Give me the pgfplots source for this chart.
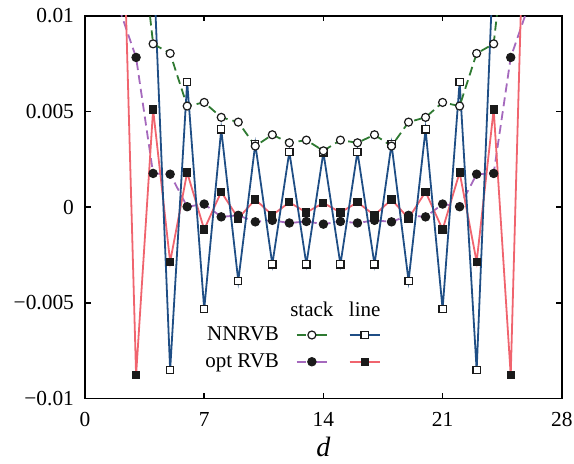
\documentclass[border=0pt]{standalone}
\usepackage{fontspec}
\setmainfont{Liberation Serif}
\usepackage{pgfplots}
\pgfplotsset{compat=1.18}
\definecolor{cgreen}{HTML}{2F7A32}
\definecolor{cblue}{HTML}{1F4E85}
\definecolor{cpurple}{HTML}{A569BD}
\definecolor{cred}{HTML}{F0646E}
\definecolor{mk}{HTML}{1A1A1A}
\pgfplotsset{
  gsty/.style={cgreen, line width=0.9pt, dash pattern=on 4.5pt off 2.5pt, mark=*, mark size=2pt, mark options={solid, fill=white, draw=mk, line width=0.6pt}},
  bsty/.style={cblue, line width=0.9pt, mark=square*, mark size=1.8pt, mark options={solid, fill=white, draw=mk, line width=0.6pt}},
  psty/.style={cpurple, line width=0.9pt, dash pattern=on 4.5pt off 2.5pt, mark=*, mark size=2.1pt, mark options={solid, fill=mk, draw=mk, line width=0.5pt}},
  rsty/.style={cred, line width=0.9pt, mark=square*, mark size=1.8pt, mark options={solid, fill=mk, draw=mk, line width=0.5pt}},
  legline/.style={legend image code/.code={%
     \path (-#1,0pt) (15pt+#1,0pt);
     \draw[mark repeat=2,mark phase=2,##1] plot coordinates {(0pt,0pt) (7.5pt,0pt) (15pt,0pt)};}},
  legdash/.style={legend image code/.code={%
     \path (-#1,0pt) (15pt+#1,0pt);
     \draw[##1, dash pattern=on 4pt off 7pt] (0pt,0pt) -- (15pt,0pt);
     \draw[mark repeat=2,mark phase=2,##1] plot[draw=none] coordinates {(0pt,0pt) (7.5pt,0pt) (15pt,0pt)};}},
  legtext/.style={legend image code/.code={%
     \path (7.5pt,-3.6pt) (7.5pt,4pt);
     \node[overlay, anchor=center, inner sep=0pt] at (7.5pt,0pt) {#1};}},
}
\begin{document}
\begin{tikzpicture}
\useasboundingbox (-42.5pt,-32.25pt) rectangle (244.5pt,199.25pt);
\begin{axis}[
  scale only axis, width=238.4pt, height=191.4pt,
  xmin=0, xmax=28, ymin=-0.01, ymax=0.01,
  xtick={0,7,14,21,28},
  xticklabels={0,7,14,21,28},
  ytick={-0.01,-0.005,0,0.005,0.01},
  yticklabels={−0.01,−0.005,0,0.005,0.01},
  scaled y ticks=false,
  tick align=inside, major tick length=2.8pt,
  axis line style={line width=0.9pt},
  tick style={line width=0.8pt, black},
  ticklabel style={font=\fontsize{10.7}{12}\selectfont},
  xticklabel style={yshift=-3.5pt},
  yticklabel style={xshift=-2pt},
  xlabel={\textit{d}},
  xlabel style={font=\fontsize{14}{16}\selectfont, yshift=2pt},
  legend columns=3,
  legend cell align=right,
  legend style={draw=none, fill=none, inner sep=0pt, column sep=0pt, row sep=3pt,
    nodes={inner sep=1pt}, font=\fontsize{10.5}{12}\selectfont,
    at={(axis cs:6.93,-0.00497)}, anchor=north west},
]
\addplot[psty, forget plot] coordinates {
(2,0.0104) (3,0.00782) (4,0.00176) (5,0.00172) (6,0.00002) (7,0.00016) (8,-0.00051) (9,-0.00043) (10,-0.00077) (11,-0.00069) (12,-0.00083) (13,-0.00075) (14,-0.00089)
(15,-0.00075) (16,-0.00083) (17,-0.00069) (18,-0.00077) (19,-0.00043) (20,-0.00051) (21,0.00016) (22,0.00002) (23,0.00172) (24,0.00176) (25,0.00782) (26,0.0104)};
\addplot[rsty, forget plot] coordinates {
(2,0.0232) (3,-0.00878) (4,0.00510) (5,-0.00286) (6,0.00181) (7,-0.00117) (8,0.00080) (9,-0.00059) (10,0.00040) (11,-0.00042) (12,0.00025) (13,-0.00028) (14,0.00022)
(15,-0.00028) (16,0.00025) (17,-0.00042) (18,0.00040) (19,-0.00059) (20,0.00080) (21,-0.00117) (22,0.00181) (23,-0.00286) (24,0.00510) (25,-0.00878) (26,0.0232)};
\addplot[bsty, forget plot] coordinates {
(4,0.0132) (5,-0.00852) (6,0.00655) (7,-0.00533) (8,0.00406) (9,-0.00385) (10,0.00329) (11,-0.00299) (12,0.00289) (13,-0.00299) (14,0.00286)
(15,-0.00299) (16,0.00289) (17,-0.00299) (18,0.00329) (19,-0.00385) (20,0.00406) (21,-0.00533) (22,0.00655) (23,-0.00852) (24,0.0132)};
\addplot[gsty, forget plot] coordinates {
(3,0.0165) (4,0.00853) (5,0.00803) (6,0.00528) (7,0.00547) (8,0.00469) (9,0.00444) (10,0.00319) (11,0.00378) (12,0.00336) (13,0.00350) (14,0.00294)
(15,0.00350) (16,0.00336) (17,0.00378) (18,0.00319) (19,0.00444) (20,0.00469) (21,0.00547) (22,0.00528) (23,0.00803) (24,0.00853) (25,0.0165)};
\addlegendimage{empty legend}\addlegendentry{}
\addlegendimage{legtext=stack}\addlegendentry{}
\addlegendimage{legtext=line}\addlegendentry{}
\addlegendimage{empty legend}\addlegendentry{NNRVB}
\addlegendimage{gsty, legdash=7.5pt}\addlegendentry{}
\addlegendimage{bsty, legline=1pt}\addlegendentry{}
\addlegendimage{empty legend}\addlegendentry{opt RVB}
\addlegendimage{psty, legdash=7.5pt}\addlegendentry{}
\addlegendimage{rsty, legline=1pt}\addlegendentry{}
\end{axis}
\end{tikzpicture}
\end{document}
